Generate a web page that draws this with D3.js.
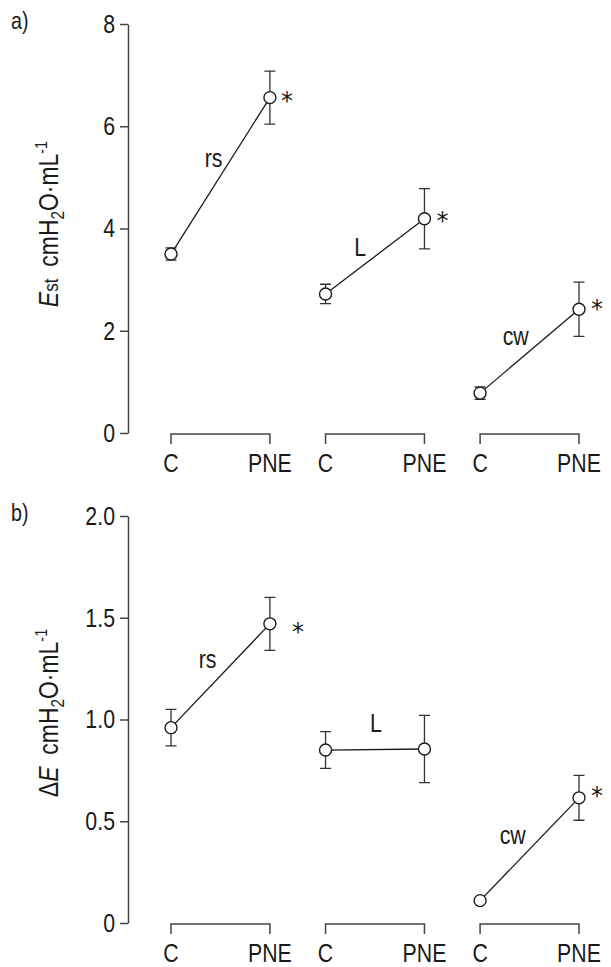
<!DOCTYPE html>
<html>
<head>
<meta charset="utf-8" />
<title>Elastance C vs PNE</title>
<script src="https://cdn.jsdelivr.net/npm/d3@7"></script>
<style>
    body { margin:0; background:#fff; }
    svg { display:block; }
    text { font-family:"Liberation Sans",Arial,Helvetica,sans-serif; fill:#1a1a1a; }
</style>
</head>
<body>
<svg id="CHART" width="611" height="967"></svg>
<script>
    // categories
    var groups = ["rs", "L", "cw"];
    var conditions = ["C", "PNE"];

    // a) Est, mean and error per group, [C, PNE]
    var estMean = [[3.50, 6.56], [2.72, 4.19], [0.78, 2.42]];
    var estErr = [[0.12, 0.52], [0.19, 0.59], [0.12, 0.53]];
    var estSig = [true, true, true];
    var estTicks = [0, 2, 4, 6, 8];
    var estTickLabels = ["0", "2", "4", "6", "8"];

    // b) delta E, mean and error per group, [C, PNE]
    var dEMean = [[0.96, 1.47], [0.85, 0.855], [0.11, 0.615]];
    var dEErr = [[0.09, 0.13], [0.09, 0.165], [0, 0.11]];
    var dESig = [true, false, true];
    var dETicks = [0, 0.5, 1.0, 1.5, 2.0];
    var dETickLabels = ["0", "0.5", "1.0", "1.5", "2.0"];

    /*------------------------ layout ------------------------*/
    var FS = 26;      // font size
    var SX = 0.82;    // horizontal squeeze, the original type is a condensed face
    var AXIS_X = 128;
    var svg = d3.select("#CHART");

    var x = d3.scaleBand().domain(groups).range([171, 579]).paddingInner(0.36).paddingOuter(0);
    var xc = d3.scalePoint().domain(conditions).range([0, x.bandwidth()]);

    var panels = [
        {
            tag: "a)", mean: estMean, err: estErr, sig: estSig, ticks: estTicks, tickLabels: estTickLabels,
            max: 8, top: 24, zero: 433, labelY: 224, yLabel: "est",
            // group label anchor: [fraction along group, value]
            labelAt: [[0.43, 5.35], [0.35, 3.62], [0.36, 1.87]],
            starOff: [[17, -5], [18, -6], [18, -8]]
        },
        {
            tag: "b)", mean: dEMean, err: dEErr, sig: dESig, ticks: dETicks, tickLabels: dETickLabels,
            max: 2, top: 516, zero: 923, labelY: 713, yLabel: "dE",
            labelAt: [[0.37, 1.29], [0.51, 0.98], [0.33, 0.427]],
            starOff: [[28, 0], [0, 0], [18, -10]]
        }
    ];

    // narrow text placed at x,y
    function ntext(parent, tx, ty, str, size) {
        return parent.append("text")
            .attr("transform", "translate(" + tx + "," + ty + ") scale(" + SX + ",1)")
            .style("font-size", (size || FS) + "px")
            .text(str);
    }

    function drawPanel(P) {
        var g = svg.append("g");
        var y = d3.scaleLinear().domain([0, P.max]).range([P.zero, P.top]);

        // y axis
        var ax = g.append("g")
            .attr("transform", "translate(" + AXIS_X + ",0)")
            .call(d3.axisLeft(y)
                .tickValues(P.ticks)
                .tickFormat(function (d) { return P.tickLabels[P.ticks.indexOf(d)]; })
                .tickSize(8).tickSizeOuter(0).tickPadding(5));
        ax.attr("font-family", null).attr("font-size", null);
        ax.select(".domain").attr("stroke", "#444").attr("stroke-width", 1.5);
        ax.selectAll(".tick line").attr("stroke", "#444").attr("stroke-width", 1.5);
        ax.selectAll(".tick text")
            .attr("x", 0)
            .attr("transform", "translate(-13,0) scale(" + SX + ",1)")
            .style("font-size", FS + "px").attr("fill", "#1a1a1a");

        // panel tag
        ntext(g, 11, P.top + 5, P.tag, 24);

        // y label (rotated)
        var yl = g.append("text")
            .attr("transform", "translate(58," + P.labelY + ") rotate(-90) scale(0.85,1)")
            .attr("text-anchor", "middle")
            .style("font-size", "27px");
        if (P.yLabel == "est") {
            yl.append("tspan").style("font-style", "italic").text("E");
            yl.append("tspan").style("font-size", "20px").text("st");
        } else {
            yl.append("tspan").text("\u0394");
            yl.append("tspan").style("font-style", "italic").text("E");
        }
        yl.append("tspan").attr("dx", 14).text("cmH");
        yl.append("tspan").style("font-size", "18px").attr("dy", 6).text("2");
        yl.append("tspan").attr("dy", -6).text("O\u00b7mL");
        yl.append("tspan").style("font-size", "17px").attr("dy", -11).text("-1");

        // brackets under each group
        var yb = y(0) + 1;
        g.append("g").selectAll("path").data(groups).join("path")
            .attr("d", function (k) {
                var x0 = x(k) + xc("C"), x1 = x(k) + xc("PNE");
                return "M" + x0 + "," + (yb + 10) + "V" + yb + "H" + x1 + "V" + (yb + 10);
            })
            .attr("fill", "none").attr("stroke", "#444").attr("stroke-width", 1.5);

        // condition labels
        groups.forEach(function (k) {
            conditions.forEach(function (c) {
                ntext(g, x(k) + xc(c), y(0) + 39, c).attr("text-anchor", "middle");
            });
        });

        // lines, error bars, points
        groups.forEach(function (k, gi) {
            var pts = conditions.map(function (c, ci) {
                return { x: x(k) + xc(c), m: P.mean[gi][ci], e: P.err[gi][ci] };
            });

            g.append("path").datum(pts)
                .attr("d", d3.line().x(function (d) { return d.x; }).y(function (d) { return y(d.m); }))
                .attr("fill", "none").attr("stroke", "#1a1a1a").attr("stroke-width", 1.3);

            g.append("g").selectAll("path").data(pts.filter(function (d) { return d.e > 0; })).join("path")
                .attr("d", function (d) {
                    var t = y(d.m + d.e), b = y(d.m - d.e);
                    return "M" + (d.x - 5.5) + "," + t + "H" + (d.x + 5.5) +
                        "M" + d.x + "," + t + "V" + b +
                        "M" + (d.x - 5.5) + "," + b + "H" + (d.x + 5.5);
                })
                .attr("fill", "none").attr("stroke", "#333").attr("stroke-width", 1.3);

            g.append("g").selectAll("circle").data(pts).join("circle")
                .attr("cx", function (d) { return d.x; })
                .attr("cy", function (d) { return y(d.m); })
                .attr("r", 6)
                .attr("fill", "#fff").attr("stroke", "#1a1a1a").attr("stroke-width", 1.4);

            // group label
            var la = P.labelAt[gi];
            ntext(g, x(k) + la[0] * x.bandwidth(), y(la[1]) + 8, k).attr("text-anchor", "middle");

            // significance mark
            if (P.sig[gi]) {
                var so = P.starOff[gi];
                g.append("text")
                    .attr("x", pts[1].x + so[0])
                    .attr("y", y(pts[1].m) + so[1] + 16)
                    .attr("text-anchor", "middle")
                    .style("font-family", "'DejaVu Sans',sans-serif")
                    .style("font-size", "24px")
                    .attr("fill", "#666")
                    .text("*");
            }
        });
    }

    panels.forEach(drawPanel);
</script>
</body>
</html>
